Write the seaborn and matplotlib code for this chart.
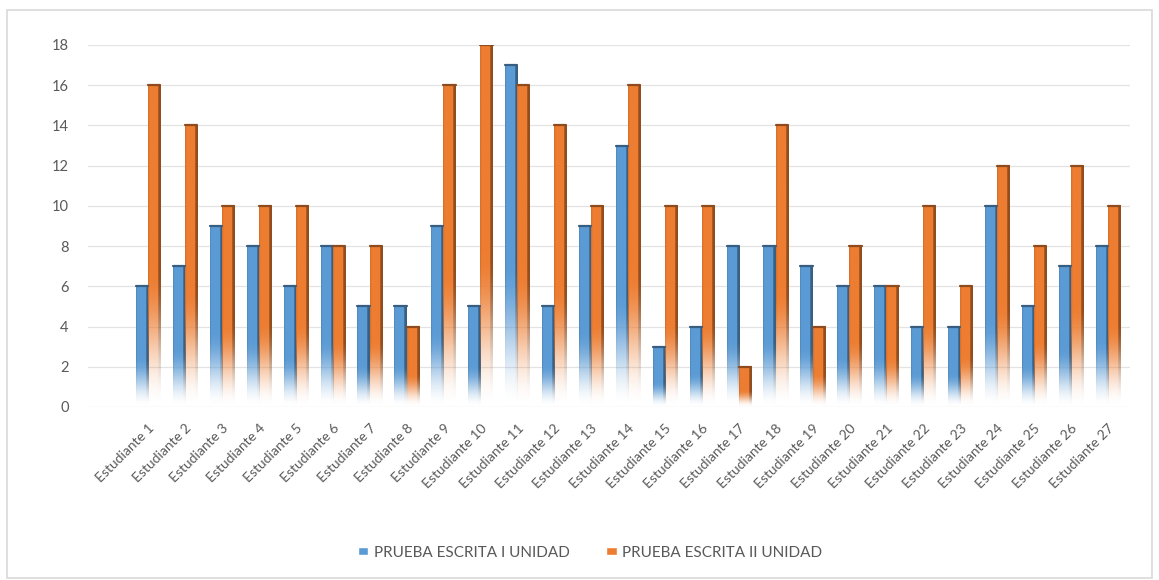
import numpy as np
import pandas as pd
import matplotlib
matplotlib.use("Agg")
import matplotlib.pyplot as plt
import seaborn as sns
from matplotlib.patches import Rectangle, Patch

estudiantes = [f"Estudiante {i}" for i in range(1, 28)]
prueba_1 = [6, 7, 9, 8, 6, 8, 5, 5, 9, 5, 17, 5, 9, 13, 3, 4, 8, 8, 7, 6, 6, 4, 4, 10, 5, 7, 8]
prueba_2 = [16, 14, 10, 10, 10, 8, 8, 4, 16, 18, 16, 14, 10, 16, 10, 10, 2, 14, 4, 8, 6, 10, 6, 12, 8, 12, 10]
series = ["PRUEBA ESCRITA I UNIDAD", "PRUEBA ESCRITA II UNIDAD"]
yticks = [0, 2, 4, 6, 8, 10, 12, 14, 16, 18]

blue = "#5B9BD5"
orange = "#ED7D31"

df = pd.DataFrame({
    "Estudiante": estudiantes * 2,
    "Nota": prueba_1 + prueba_2,
    "Prueba": [series[0]] * 27 + [series[1]] * 27,
})

sns.set_style("white")
plt.rcParams['font.family'] = ['Lato', 'DejaVu Sans']

fig = plt.figure(figsize=(11.59, 5.80), dpi=100)
ax = fig.add_axes([88 / 1159, 1 - 407 / 580, (1130 - 88) / 1159, (407 - 45) / 580])

sns.barplot(data=df, x="Estudiante", y="Nota", hue="Prueba",
            palette=[blue, orange], width=0.66, ax=ax, legend=False,
            saturation=1)


def bar_image(color, ncols=24, nrows=160):
    rgb = np.array(matplotlib.colors.to_rgb(color))
    xs = np.linspace(0, 1, ncols)
    shade = np.ones(ncols)
    shade[xs > 0.8] = 0.62
    shade[xs < 0.08] = 0.9
    ys = np.linspace(1, 0, nrows)  # top row first
    t = np.clip(ys / 0.42, 0, 1)
    alpha = t * t * (3 - 2 * t)
    img = np.zeros((nrows, ncols, 4))
    img[:, :, :3] = np.clip(rgb[None, None, :] * shade[None, :, None], 0, 1)
    img[:, :, 3] = alpha[:, None]
    return img


# replace flat bars with gradient fill
for p in list(ax.patches):
    x0, w, h = p.get_x(), p.get_width(), p.get_height()
    if h <= 0:
        continue
    col = p.get_facecolor()
    p.set_visible(False)
    ax.imshow(bar_image(col[:3]), extent=(x0, x0 + w, 0, h),
              aspect="auto", zorder=3, interpolation="bilinear")
    dark = np.array(col[:3]) * 0.6
    ax.plot([x0, x0 + w], [h, h], color=dark, lw=1.6, zorder=4,
            solid_capstyle="round")

ax.set_xlim(-1.63, 26.6)
ax.set_ylim(0, 18)
ax.set_yticks(yticks)
ax.yaxis.grid(True, color="#E3E3E3", lw=0.9)
ax.set_axisbelow(True)
for s in ax.spines.values():
    s.set_visible(False)
ax.set_xlabel("")
ax.set_ylabel("")
ax.tick_params(axis="y", length=0, pad=14, labelsize=10.5, labelcolor="#595959")
ax.tick_params(axis="x", length=0, pad=11, labelsize=10, labelcolor="#595959")
plt.setp(ax.get_xticklabels(), rotation=45, ha="right", rotation_mode="anchor")

handles = [Patch(facecolor=blue), Patch(facecolor=orange)]
fig.legend(handles, series, loc="center", bbox_to_anchor=(0.509, 0.047),
           ncol=2, frameon=False, handlelength=0.7, handleheight=0.4,
           handletextpad=0.35, columnspacing=2.4, fontsize=11,
           labelcolor="#595959")

fig.patches.append(Rectangle((7 / 1159, 2 / 580), 1145 / 1159, 568 / 580,
                             transform=fig.transFigure, fill=False,
                             edgecolor="#D9D9D9", lw=1.2))

fig.savefig("out.png", dpi=100)
